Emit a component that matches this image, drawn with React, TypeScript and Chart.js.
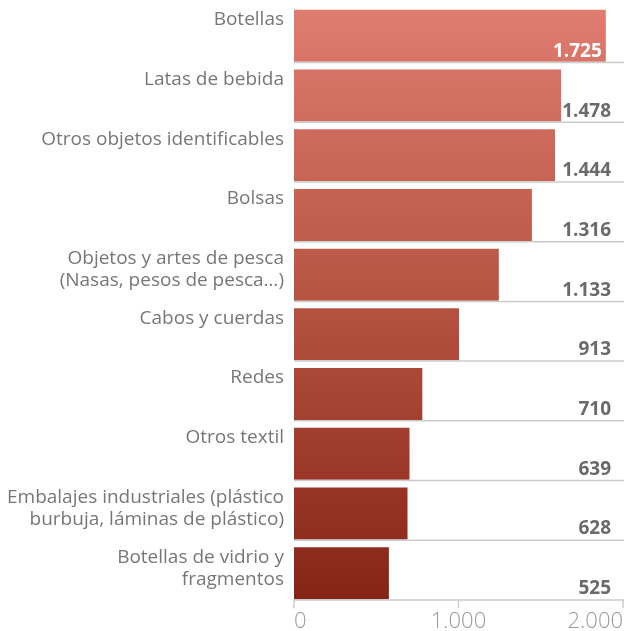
import { useEffect, useRef } from "react";
import { Chart, registerables } from "chart.js";

Chart.register(...registerables);

// Category labels (two lines each so every label is top-aligned the same way)
const categories: string[][] = [
  ["Botellas", ""],
  ["Latas de bebida", ""],
  ["Otros objetos identificables", ""],
  ["Bolsas", ""],
  ["Objetos y artes de pesca", "(Nasas, pesos de pesca…)"],
  ["Cabos y cuerdas", ""],
  ["Redes", ""],
  ["Otros textil", ""],
  ["Embalajes industriales (plástico", "burbuja, láminas de plástico)"],
  ["Botellas de vidrio y", "fragmentos"],
];

const values: number[] = [1725, 1478, 1444, 1316, 1133, 913, 710, 639, 628, 525];

const axisTicks: number[] = [0, 1000, 2000];

const FONT = "'Open Sans', 'DejaVu Sans', sans-serif";

const fmt = (v: number) =>
  String(v).replace(/\B(?=(\d{3})+(?!\d))/g, ".");

const decorPlugin = {
  id: "decor",
  afterDatasetsDraw(chart: any) {
    const ctx: CanvasRenderingContext2D = chart.ctx;
    const area = chart.chartArea;
    const meta = chart.getDatasetMeta(0);
    const x2 = chart.scales.x2;
    ctx.save();
    let lastBottom = area.bottom;
    meta.data.forEach((bar: any, i: number) => {
      const p = bar.getProps(["x", "y", "base", "height"], true);
      const bottom = p.y + p.height / 2;
      lastBottom = bottom;
      // separator line under each row
      ctx.strokeStyle = "#cccccc";
      ctx.lineWidth = 1.5;
      ctx.beginPath();
      ctx.moveTo(p.base, bottom + 0.75);
      ctx.lineTo(area.right + 1, bottom + 0.75);
      ctx.stroke();
      // value label
      ctx.font = `bold 19px ${FONT}`;
      ctx.textAlign = "right";
      ctx.textBaseline = "alphabetic";
      const txt = fmt(values[i]);
      let xr = area.right - 12;
      const w = ctx.measureText(txt).width;
      const inside = p.x > xr - w / 2;
      if (inside) xr = Math.min(xr, p.x - 4);
      ctx.fillStyle = inside ? "#ffffff" : "#6a6a6a";
      ctx.fillText(txt, xr, bottom - 5);
    });
    // bottom axis tick marks
    ctx.strokeStyle = "#cccccc";
    ctx.lineWidth = 1.5;
    axisTicks.forEach((v) => {
      const px = x2.getPixelForValue(v);
      ctx.beginPath();
      ctx.moveTo(px, lastBottom);
      ctx.lineTo(px, lastBottom + 9);
      ctx.stroke();
    });
    ctx.restore();
  },
};

export default function App() {
  const canvasRef = useRef<HTMLCanvasElement | null>(null);

  useEffect(() => {
    const canvas = canvasRef.current;
    if (!canvas) return;
    const chart = new Chart(canvas, {
      type: "bar",
      data: {
        labels: categories,
        datasets: [
          {
            data: values,
            xAxisID: "x",
            yAxisID: "y",
            backgroundColor: (context: any) => {
              const c = context.chart;
              const a = c.chartArea;
              if (!a) return "#c0604c";
              const g = c.ctx.createLinearGradient(0, a.top, 0, a.bottom);
              g.addColorStop(0, "rgb(224,125,113)");
              g.addColorStop(0.5, "rgb(182,82,64)");
              g.addColorStop(1, "rgb(133,35,21)");
              return g;
            },
            borderWidth: 0,
            barPercentage: 0.871,
            categoryPercentage: 1,
          },
        ],
      },
      options: {
        indexAxis: "y",
        animation: false,
        responsive: true,
        maintainAspectRatio: false,
        layout: { padding: { top: 6, right: 11, left: 0, bottom: 0 } },
        plugins: {
          legend: { display: false },
          tooltip: { enabled: false },
        },
        scales: {
          x: {
            type: "linear",
            display: false,
            min: 0,
            max: 1820,
          },
          x2: {
            type: "linear",
            position: "bottom",
            min: 0,
            max: 2000,
            afterBuildTicks: (scale: any) => {
              scale.ticks = axisTicks.map((v) => ({ value: v }));
            },
            afterFit: (scale: any) => {
              scale.height = 28;
              scale.paddingLeft = 0;
              scale.paddingRight = 0;
            },
            grid: { display: false, drawTicks: false },
            border: { display: false },
            ticks: {
              align: "inner",
              padding: 6,
              color: "#9a9a9a",
              font: { family: FONT, size: 22, weight: "300" },
              callback: (v: any) => fmt(Number(v)),
            },
          },
          y: {
            type: "category",
            position: "left",
            afterFit: (scale: any) => {
              scale.width = 294;
              scale.paddingTop = 0;
              scale.paddingBottom = 0;
            },
            grid: { display: false, drawTicks: false },
            border: { display: false },
            ticks: {
              padding: 10,
              labelOffset: -5,
              color: "#777777",
              font: { family: FONT, size: 19, lineHeight: 1.16 },
            },
          },
        },
      },
      plugins: [decorPlugin],
    } as any);
    return () => chart.destroy();
  }, []);

  return (
    <div style={{ position: "fixed", left: 0, top: 0, width: 634, height: 631, background: "#fff" }}>
      <canvas ref={canvasRef} />
    </div>
  );
}
